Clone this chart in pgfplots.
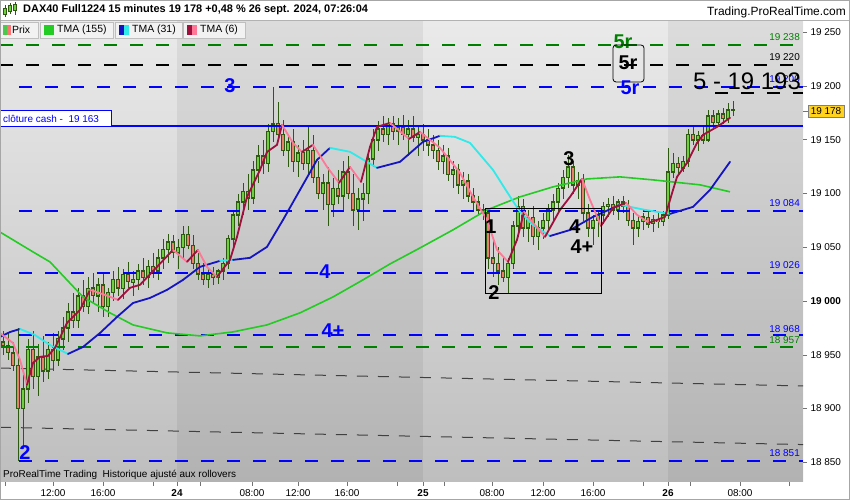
\documentclass[border=0pt]{standalone}
\usepackage{fontspec}
\setmainfont{Liberation Sans}
\usepackage{pgfplots}
\usepackage{pgfplotstable}
\pgfplotsset{compat=1.18}

\definecolor{candark}{HTML}{2E5A10}
\definecolor{canup}{HTML}{6CD040}
\definecolor{candown}{HTML}{E8806C}
\definecolor{ma155}{HTML}{22CC22}
\definecolor{ma31}{HTML}{1414C0}
\definecolor{ma31c}{HTML}{30EAEA}
\definecolor{ma6}{HTML}{A0103C}
\definecolor{ma6p}{HTML}{FF7898}
\definecolor{lvlblue}{HTML}{0000FF}
\definecolor{lvlgreen}{HTML}{008000}
\definecolor{bgtop}{HTML}{EAEAEA}
\definecolor{bgbot}{HTML}{BEBEBE}
\definecolor{pricebox}{HTML}{FFD21E}

% 15 min candles, x = chart position, prices o h l c
\pgfplotstableread{
x o h l c
3 18962 18972 18950 18958
8 18958 18970 18945 18952
13 18952 18962 18935 18940
18 18940 18975 18851 18900
23 18900 18935 18862 18918
28 18918 18965 18905 18955
33 18955 18972 18918 18930
38 18930 18960 18912 18948
43 18948 18968 18925 18935
48 18935 18962 18928 18955
53 18955 18970 18935 18945
58 18945 18972 18940 18965
63 18965 18985 18955 18975
68 18975 18998 18962 18990
73 18990 19008 18975 18982
78 18982 19012 18975 19005
83 19005 19020 18990 18995
88 18995 19022 18988 19012
93 19012 19026 18998 19005
98 19005 19022 18990 19015
103 19015 19025 18985 18995
108 18995 19012 18985 19008
113 19008 19028 19000 19020
118 19020 19032 19005 19012
123 19012 19030 19002 19025
128 19025 19036 19012 19018
133 19018 19028 19005 19020
138 19020 19035 19010 19028
143 19028 19040 19015 19022
148 19022 19038 19012 19032
153 19032 19045 19022 19028
158 19028 19048 19020 19040
163 19040 19058 19030 19048
168 19048 19062 19035 19055
173 19055 19062 19040 19045
178 19045 19058 19030 19050
183 19050 19070 19040 19062
188 19062 19070 19048 19052
193 19052 19062 19030 19035
198 19035 19045 19020 19025
203 19025 19035 19015 19020
208 19020 19030 19012 19025
213 19025 19032 19015 19022
218 19022 19030 19016 19028
223 19028 19040 19020 19035
228 19035 19062 19030 19058
233 19058 19085 19050 19080
238 19080 19100 19070 19092
243 19092 19110 19080 19102
248 19102 19118 19085 19096
253 19096 19130 19090 19122
258 19122 19145 19110 19135
263 19135 19150 19118 19128
268 19128 19165 19120 19158
273 19158 19199 19148 19165
278 19165 19185 19150 19155
283 19155 19168 19135 19140
288 19140 19155 19125 19148
293 19148 19160 19120 19130
298 19130 19145 19115 19138
303 19138 19150 19122 19128
308 19128 19164 19118 19140
313 19140 19155 19110 19115
318 19115 19130 19095 19100
323 19100 19118 19085 19110
328 19110 19125 19070 19090
333 19090 19115 19078 19105
338 19105 19122 19090 19098
343 19098 19130 19085 19120
348 19120 19135 19095 19100
353 19100 19118 19070 19085
358 19085 19105 19066 19095
363 19095 19110 19075 19100
368 19100 19140 19090 19132
373 19132 19160 19125 19150
378 19150 19168 19140 19160
383 19160 19172 19148 19155
388 19155 19170 19145 19165
393 19165 19172 19150 19158
398 19158 19170 19145 19162
403 19162 19173 19150 19155
408 19155 19168 19135 19160
413 19160 19172 19148 19152
418 19152 19164 19135 19155
423 19155 19165 19140 19150
428 19150 19160 19135 19145
433 19145 19155 19132 19140
438 19140 19150 19122 19130
443 19130 19145 19118 19135
448 19135 19142 19112 19118
453 19118 19130 19105 19122
458 19122 19128 19100 19108
463 19108 19120 19095 19112
468 19112 19118 19092 19098
473 19098 19105 19085 19092
478 19092 19098 19080 19085
483 19085 19090 19075 19082
488 19082 19086 19030 19040
493 19040 19060 19022 19035
498 19035 19050 19015 19028
503 19028 19042 19018 19022
508 19022 19040 19008 19035
513 19035 19075 19030 19070
518 19070 19098 19060 19088
523 19088 19095 19060 19068
528 19068 19085 19055 19078
533 19078 19088 19052 19060
538 19060 19075 19048 19068
543 19068 19082 19058 19075
548 19075 19090 19065 19085
553 19085 19100 19075 19092
558 19092 19110 19082 19105
563 19105 19122 19095 19115
568 19115 19136 19105 19125
573 19125 19130 19100 19108
578 19108 19120 19095 19112
583 19112 19118 19075 19082
588 19082 19090 19060 19068
593 19068 19080 19052 19075
598 19075 19085 19060 19080
603 19080 19092 19072 19088
608 19088 19096 19078 19090
613 19090 19098 19080 19085
618 19085 19095 19075 19092
623 19092 19098 19082 19088
628 19088 19094 19070 19075
633 19075 19082 19052 19068
638 19068 19080 19060 19074
643 19074 19082 19066 19078
648 19078 19084 19068 19072
653 19072 19080 19064 19076
658 19076 19082 19068 19074
663 19074 19084 19070 19080
668 19080 19142 19076 19120
673 19120 19138 19115 19128
678 19128 19134 19118 19124
683 19124 19135 19120 19130
688 19130 19160 19125 19155
693 19155 19162 19145 19150
698 19150 19158 19140 19154
703 19154 19162 19146 19150
708 19150 19178 19148 19172
713 19172 19178 19160 19166
718 19166 19178 19162 19174
723 19174 19180 19165 19170
728 19170 19184 19166 19178
733 19178 19186 19172 19178
}\candles

% TMA (155)
\pgfplotstableread{
x y
0 19064.2
33 19045.7
50 19036.4
83 19003.8
110 18989.0
133 18977.8
167 18970.4
200 18967.6
233 18971.3
267 18977.8
300 18989.0
333 19003.8
363 19019.7
390 19034.5
420 19049.4
453 19066.2
487 19084.8
520 19096.9
553 19106.2
587 19113.6
620 19115.5
653 19112.7
700 19108.1
730 19101.6
}\tmaslow

% TMA (31), c = 1 rising (blue), 0 falling (cyan)
\pgfplotstableread{
x y c
0 18966.6 1
10 18971.2 1
20 18974.0 0
35 18968.4 0
50 18959.1 0
68 18950.8 1
83 18957.3 1
100 18970.3 1
117 18985.2 1
133 18998.2 1
150 19002.9 1
167 19010.4 1
183 19019.7 1
200 19031.8 1
220 19037.4 0
233 19038.3 1
250 19040.2 1
267 19050.4 1
283 19075.5 1
300 19103.4 1
317 19131.3 1
330 19142.5 0
350 19138.8 0
377 19123.9 1
400 19129.5 1
423 19148.1 1
440 19153.7 0
455 19152.7 0
470 19147.1 0
493 19122.0 0
507 19101.5 0
520 19082.9 0
533 19070.7 0
550 19060.5 1
570 19066.1 1
593 19078.3 1
620 19089.5 0
645 19084.8 0
670 19081.1 1
693 19087.6 1
710 19103.4 1
730 19129.5 1
}\tmamid

% TMA (6), c = 1 rising (dark red), 0 falling (pink)
\pgfplotstableread{
x y c
0 18970.3 0
13 18961.0 0
20 18945.3 0
27 18922.0 1
33 18942.5 1
40 18948.1 1
48 18949.0 1
55 18956.5 1
67 18979.7 1
80 18991.8 1
90 19010.4 0
105 19005.8 0
118 19001.1 1
130 19012.3 1
140 19015.1 1
157 19031.8 1
173 19047.6 0
187 19036.5 1
198 19047.6 0
207 19031.8 0
217 19022.5 1
230 19038.3 1
237 19059.7 1
247 19096.9 1
260 19121.9 1
267 19138.7 1
277 19145.3 1
282 19163.9 0
293 19147.1 0
302 19138.7 1
313 19145.3 0
327 19124.8 0
339 19109.9 1
350 19124.8 0
361 19110.8 1
370 19143.4 1
377 19162.0 1
390 19165.7 0
409 19150.8 1
420 19157.3 0
440 19142.5 0
460 19119.3 0
473 19096.9 0
487 19075.5 0
497 19047.6 0
508 19036.5 1
517 19057.0 1
524 19083.0 0
533 19072.8 0
545 19059.7 1
560 19084.8 1
570 19096.9 1
582 19113.6 0
590 19094.1 0
601 19069.9 1
613 19086.7 1
626 19091.3 0
637 19080.2 0
649 19072.8 1
665 19078.3 1
673 19103.4 1
677 19115.5 1
687 19128.5 1
697 19147.1 1
703 19154.6 1
717 19162.0 1
730 19170.4 1
}\tmafast

\begin{document}
\begin{tikzpicture}
\begin{axis}[
    name=ax, anchor=south west,
    scale only axis, width=803bp, height=461bp,
    xmin=0, xmax=803, ymin=18831.7, ymax=19260.5,
    scaled y ticks=false, scaled x ticks=false,
    axis line style={draw=none},
    axis background/.style={top color=bgtop, bottom color=bgbot},
    xtick={5,53,103,153,177,200,252,298,347,397,423,444,492,543,593,643,668,690,740,789},
    xticklabels={,12:00,16:00,,\textbf{24},,08:00,12:00,16:00,,\textbf{25},,08:00,12:00,16:00,,\textbf{26},,08:00,},
    ytick={18850,18900,18950,19000,19050,19100,19150,19200,19250},
    yticklabels={18 850,18 900,18 950,\textbf{19 000},19 050,19 100,19 150,19 200,19 250},
    xtick pos=bottom, ytick pos=right, yticklabel pos=right,
    tick align=outside, major tick length=4bp,
    tick style={black!55, line width=0.6pt},
    ticklabel style={font=\fontsize{10}{12}\selectfont},
    point meta min=0, point meta max=1,
]
% darker sessions
\fill[black, opacity=0.06] (axis cs:177,18831.7) rectangle (axis cs:423,19260.5);
\fill[black, opacity=0.06] (axis cs:668,18831.7) rectangle (axis cs:803,19260.5);

% sloping thin lines
\addplot[black!75, line width=1bp, dash pattern=on 11bp off 10bp] coordinates {(0,18937.7) (803,18921)};
\addplot[black!75, line width=1bp, dash pattern=on 11bp off 10bp] coordinates {(0,18882.6) (803,18866.5)};

% candles: wicks, body outline, body fill
\addplot[draw=none, error bars/.cd, y dir=both, y explicit, error mark=none,
    error bar style={draw=candark, solid, line width=1bp}]
    table[x=x, y expr={(\thisrow{h}+\thisrow{l})/2}, y error expr={(\thisrow{h}-\thisrow{l})/2}] {\candles};
\addplot[draw=none, error bars/.cd, y dir=both, y explicit, error mark=none,
    error bar style={draw=candark, solid, line width=3.4bp}]
    table[x=x, y expr={(\thisrow{o}+\thisrow{c})/2}, y error expr={abs(\thisrow{o}-\thisrow{c})/2+0.7}] {\candles};
\addplot[draw=none, error bars/.cd, y dir=both, y explicit, error mark=none,
    error bar style={draw=canup, solid, line width=1.5bp}]
    table[x=x, y expr={(\thisrow{o}+\thisrow{c})/2}, y error expr={max(abs(\thisrow{o}-\thisrow{c})/2-0.7,0)}] {\candles};
\addplot[draw=none, error bars/.cd, y dir=both, y explicit, error mark=none,
    error bar style={draw=candown, solid, line width=1.5bp}]
    table[x=x, y expr={(\thisrow{o}+\thisrow{c})/2}, y error expr={(\thisrow{o}>\thisrow{c}) ? max(abs(\thisrow{o}-\thisrow{c})/2-0.7,0) : 0}] {\candles};

% levels
\addplot[lvlgreen, line width=2bp, dash pattern=on 13bp off 13bp] coordinates {(0,19238) (803,19238)};
\addplot[black, line width=2bp, dash pattern=on 13bp off 13bp] coordinates {(0,19220) (803,19220)};
\addplot[black, line width=2bp, dash pattern=on 13bp off 13bp] coordinates {(715,19193.5) (803,19193.5)};
\addplot[lvlblue, line width=2bp, dash pattern=on 13bp off 13bp] coordinates {(19,19199) (803,19199)};
\addplot[lvlblue, line width=2bp] coordinates {(0,19163) (803,19163)};
\addplot[lvlblue, line width=2bp, dash pattern=on 13bp off 13bp] coordinates {(19,19084) (803,19084)};
\addplot[lvlblue, line width=2bp, dash pattern=on 13bp off 13bp] coordinates {(19,19026) (803,19026)};
\addplot[lvlblue, line width=2bp, dash pattern=on 13bp off 13bp] coordinates {(19,18968) (803,18968)};
\addplot[lvlgreen, line width=2bp, dash pattern=on 13bp off 13bp] coordinates {(0,18957) (795,18957)};
\addplot[lvlblue, line width=2bp, dash pattern=on 13bp off 13bp] coordinates {(19,18851) (803,18851)};

% moving averages
\addplot[ma155, line width=1.6bp] table[x=x, y=y] {\tmaslow};
\addplot[mesh, shader=flat corner, line width=1.8bp, line cap=round,
    colormap={tmamid}{color=(ma31c) color=(ma31)}, point meta=explicit]
    table[x=x, y=y, meta=c] {\tmamid};
\addplot[mesh, shader=flat corner, line width=1.8bp, line cap=round,
    colormap={tmafast}{color=(ma6p) color=(ma6)}, point meta=explicit]
    table[x=x, y=y, meta=c] {\tmafast};

% wave box
\addplot[black, line width=0.8bp] coordinates {(485,19086.6) (601,19086.6) (601,19007.5) (485,19007.5) (485,19086.6)};
\end{axis}

% everything else in picture pixels, origin at the bottom-left corner of the image
\begin{scope}[shift={(ax.south west)}, yshift=-18bp, x=1bp, y=1bp]
% header
\fill[white] (0,480) rectangle (850,500);
\draw[black!30] (0,480) -- (850,480);
\foreach \cx/\lo/\hi/\bl/\bh in {5/483/495/486/492, 10/486/497/489/495, 15/485/498/490/496}{
  \draw[candark, line width=0.8bp] (\cx,\lo) -- (\cx,\hi);
  \filldraw[fill=canup, draw=candark, line width=0.5bp] (\cx-1.5,\bl) rectangle (\cx+1.5,\bh);
}
\node[anchor=west, inner sep=0, font=\fontsize{11}{13}\selectfont\bfseries] at (23,490)
  {DAX40 Full1224 15 minutes 19 178 +0,48 \% 26 sept. 2024, 07:26:04};
\node[anchor=east, inner sep=0, font=\fontsize{12}{14}\selectfont] at (846,488) {Trading.ProRealTime.com};

% legend boxes
\tikzset{lgbox/.style={fill=black!5, draw=black!25, line width=0.6bp}}
\filldraw[lgbox] (0.5,462) rectangle (38,478);
\fill[green!70!black!70] (3,465) rectangle (7,475);
\fill[red!55] (7,465) rectangle (11,475);
\node[anchor=west, inner sep=0, font=\fontsize{10.5}{12}\selectfont] at (12,470) {Prix};
\filldraw[lgbox] (40,462) rectangle (113,478);
\fill[ma155] (44,465) rectangle (54,475);
\node[anchor=west, inner sep=0, font=\fontsize{10.5}{12}\selectfont] at (57,470) {TMA (155)};
\filldraw[lgbox] (115,462) rectangle (182,478);
\fill[ma31] (119,465) rectangle (124,475);
\fill[ma31c] (124,465) rectangle (129,475);
\node[anchor=west, inner sep=0, font=\fontsize{10.5}{12}\selectfont] at (132,470) {TMA (31)};
\filldraw[lgbox] (183,462) rectangle (245,478);
\fill[ma6] (187,465) rectangle (192,475);
\fill[ma6p] (192,465) rectangle (197,475);
\node[anchor=west, inner sep=0, font=\fontsize{10.5}{12}\selectfont] at (200,470) {TMA (6)};

% cash close label
\filldraw[fill=white, draw=lvlblue, line width=1bp] (0.5,373) rectangle (111,389);
\node[anchor=west, inner sep=0, text=lvlblue, font=\fontsize{10}{12}\selectfont] at (3,381) {clôture cash -\ \ 19 163};

% level values at right
\tikzset{lvl/.style={anchor=east, inner sep=0, font=\fontsize{10}{12}\selectfont}}
\node[lvl, text=lvlgreen] at (800,463) {19 238};
\node[lvl, text=black] at (800,443) {19 220};
\node[lvl, text=lvlblue] at (800,421) {19 200};
\node[lvl, text=lvlblue] at (800,297) {19 084};
\node[lvl, text=lvlblue] at (800,235) {19 026};
\node[lvl, text=lvlblue] at (800,171) {18 968};
\node[lvl, text=lvlgreen] at (800,160) {18 957};
\node[lvl, text=lvlblue] at (800,47) {18 851};

% last price
\draw[black!55, line width=0.6bp] (803,389) -- (808,389);
\filldraw[fill=pricebox, draw=black!50, line width=0.5bp] (808,383) rectangle (844,395);
\node[inner sep=0, font=\fontsize{10}{12}\selectfont] at (826,389) {19 178};

% wave labels
\tikzset{wave/.style={inner sep=0, font=\fontsize{20}{22}\selectfont\bfseries}}
\node[wave, text=lvlblue] at (230,414) {3};
\node[wave, text=lvlblue] at (325,228) {4};
\node[wave, text=lvlblue] at (333,169) {4+};
\node[wave, text=lvlblue] at (25,47) {2};
\node[wave, text=lvlgreen] at (623,458) {5r};
\draw[black, line width=0.8bp, rounded corners=3bp] (613,455) rectangle (644,418);
\node[wave, text=black] at (628,437) {5r};
\node[wave, text=lvlblue] at (630,412) {5r};
\node[wave, text=black] at (491,273) {1};
\node[wave, text=black] at (494,207) {2};
\node[wave, text=black] at (569,341) {3};
\node[wave, text=black] at (575,273) {4};
\node[wave, text=black] at (582,253) {4+};
\node[inner sep=0, font=\fontsize{24}{28}\selectfont] at (747,419) {5 -\ 19 193};

% footer note
\node[anchor=west, inner sep=0, font=\fontsize{10}{12}\selectfont] at (3,25) {ProRealTime Trading\ \ Historique ajusté aux rollovers};

\draw[black!35, line width=1bp] (0.5,0.5) rectangle (849.5,499.5);
\pgfresetboundingbox
\path[use as bounding box] (0,0) rectangle (850,500);
\end{scope}
\end{tikzpicture}
\end{document}
